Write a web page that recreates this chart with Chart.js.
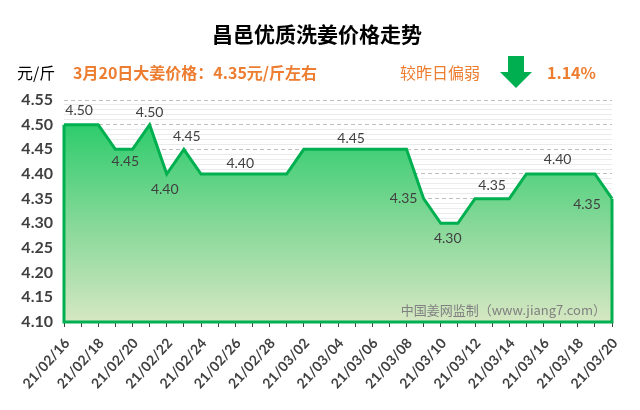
<!DOCTYPE html>
<html>
<head>
<meta charset="utf-8">
<title>昌邑优质洗姜价格走势</title>
<script src="https://cdn.jsdelivr.net/npm/chart.js@4/dist/chart.umd.min.js"></script>
<style>
    html, body { margin: 0; padding: 0; background: #fff; }
</style>
</head>
<body>
<canvas id="price-chart" width="640" height="410"></canvas>
<script>
var dates = [
    "21/02/16", "21/02/17", "21/02/18", "21/02/19", "21/02/20", "21/02/21",
    "21/02/22", "21/02/23", "21/02/24", "21/02/25", "21/02/26", "21/02/27",
    "21/02/28", "21/03/01", "21/03/02", "21/03/03", "21/03/04", "21/03/05",
    "21/03/06", "21/03/07", "21/03/08", "21/03/09", "21/03/10", "21/03/11",
    "21/03/12", "21/03/13", "21/03/14", "21/03/15", "21/03/16", "21/03/17",
    "21/03/18", "21/03/19", "21/03/20"
];
var prices = [
    4.50, 4.50, 4.50, 4.45, 4.45, 4.50,
    4.40, 4.45, 4.40, 4.40, 4.40, 4.40,
    4.40, 4.40, 4.45, 4.45, 4.45, 4.45,
    4.45, 4.45, 4.45, 4.35, 4.30, 4.30,
    4.35, 4.35, 4.35, 4.40, 4.40, 4.40,
    4.40, 4.40, 4.35
];
var yTickValues = [4.10, 4.15, 4.20, 4.25, 4.30, 4.35, 4.40, 4.45, 4.50, 4.55];

var titleText = "昌邑优质洗姜价格走势";
var unitText = "元/斤";
var priceNote = "3月20日大姜价格：4.35元/斤左右";
var changeNote = "较昨日偏弱";
var changePct = "1.14%";
var sourceNote = "中国姜网监制（www.jiang7.com）";

var green = "#00B050";
var orange = "#ED7D31";
var cjk = '"Noto Sans CJK SC", sans-serif';
var num = 'Lato, "Noto Sans", sans-serif';

// which points get a value label, and where it sits relative to the point
var valueLabels = [
    { i: 1, dx: -2, dy: -14 },
    { i: 3, dx: 10, dy: 12 },
    { i: 5, dx: 0, dy: -12 },
    { i: 6, dx: -2, dy: 15 },
    { i: 7, dx: 3, dy: -13 },
    { i: 10, dx: 5, dy: -11 },
    { i: 17, dx: -4, dy: -11 },
    { i: 21, dx: -20, dy: 0 },
    { i: 22, dx: 7, dy: 15 },
    { i: 25, dx: 0, dy: -13 },
    { i: 29, dx: -3, dy: -15 },
    { i: 32, dx: -25, dy: 6 }
];

var areaEdges = {
    id: "areaEdges",
    afterDatasetsDraw: function (chart) {
        var pts = chart.getDatasetMeta(0).data;
        var bottom = chart.scales.y.getPixelForValue(yTickValues[0]);
        var first = pts[0], last = pts[pts.length - 1];
        var c = chart.ctx;
        c.save();
        c.strokeStyle = green;
        c.lineWidth = 3;
        c.lineJoin = "miter";
        c.beginPath();
        c.moveTo(first.x, first.y);
        c.lineTo(first.x, bottom);
        c.lineTo(last.x, bottom);
        c.lineTo(last.x, last.y);
        c.stroke();

        c.font = "14px " + num;
        c.fillStyle = "#404040";
        c.textAlign = "center";
        c.textBaseline = "middle";
        valueLabels.forEach(function (l) {
            var p = pts[l.i];
            c.fillText(prices[l.i].toFixed(2), p.x + l.dx, p.y + l.dy);
        });

        c.font = "13px " + cjk;
        c.fillStyle = "#808080";
        c.textAlign = "right";
        c.fillText(sourceNote, chart.chartArea.right - 6, chart.chartArea.bottom - 12);
        c.restore();
    }
};

var header = {
    id: "header",
    afterDraw: function (chart) {
        var c = chart.ctx;
        c.save();
        c.textBaseline = "middle";
        c.textAlign = "center";
        c.fillStyle = "#000";
        c.font = "bold 21px " + cjk;
        c.fillText(titleText, 317, 34);

        c.textAlign = "left";
        c.font = "16px " + cjk;
        c.fillText(unitText, 17, 73);
        c.fillStyle = orange;
        c.font = "bold 16px " + cjk;
        c.fillText(priceNote, 73, 73);
        c.font = "16px " + cjk;
        c.fillText(changeNote, 400, 73);
        c.font = "bold 16px " + cjk;
        c.fillText(changePct, 547, 73);

        // down arrow
        c.fillStyle = green;
        c.beginPath();
        c.moveTo(508, 56);
        c.lineTo(524, 56);
        c.lineTo(524, 72);
        c.lineTo(532, 72);
        c.lineTo(516, 88);
        c.lineTo(500, 72);
        c.lineTo(508, 72);
        c.closePath();
        c.fill();
        c.restore();
    }
};

var ctx = document.getElementById("price-chart").getContext("2d");
var chart = new Chart(ctx, {
    type: "line",
    data: {
        labels: dates,
        datasets: [
            {
                label: "价格",
                data: prices,
                borderColor: green,
                borderWidth: 3,
                borderJoinStyle: "miter",
                pointRadius: 0,
                tension: 0,
                fill: "start",
                backgroundColor: function (context) {
                    var area = context.chart.chartArea;
                    if (!area) return "#7fd69a";
                    var y = context.chart.scales.y;
                    var g = context.chart.ctx.createLinearGradient(0, y.getPixelForValue(4.5), 0, area.bottom);
                    g.addColorStop(0, "#2ecc6c");
                    g.addColorStop(0.5, "#85d898");
                    g.addColorStop(1, "#d5e7c2");
                    return g;
                },
            },
        ],
    },
    options: {
        responsive: false,
        animation: false,
        layout: { padding: { top: 100, right: 28, left: 0, bottom: 0 } },
        plugins: {
            legend: { display: false },
            tooltip: { enabled: false },
        },
        scales: {
            x: {
                offset: false,
                grid: {
                    drawOnChartArea: false,
                    drawTicks: true,
                    tickLength: 5,
                    tickColor: "#404040",
                },
                border: { color: "#404040", width: 1.5 },
                ticks: {
                    autoSkip: false,
                    minRotation: 48,
                    maxRotation: 48,
                    padding: 8,
                    labelOffset: 3,
                    color: "#404040",
                    font: { family: num, size: 14, weight: "bold" },
                    callback: function (v, i) {
                        return i % 2 === 0 ? dates[i] : "";
                    },
                },
                afterFit: function (s) { s.height = 88; },
            },
            y: {
                min: yTickValues[0],
                max: yTickValues[yTickValues.length - 1],
                afterBuildTicks: function (s) {
                    s.ticks = yTickValues.map(function (v) { return { value: v }; });
                },
                grid: { color: "#bfbfbf", drawTicks: false },
                border: { display: false, dash: [4, 3] },
                ticks: {
                    padding: 11,
                    color: "#404040",
                    font: { family: num, size: 16, weight: "bold" },
                    callback: function (v) { return v.toFixed(2); },
                },
                afterFit: function (s) { s.width = 64; },
            },
            minor: {
                position: "left",
                min: yTickValues[0],
                max: yTickValues[yTickValues.length - 1],
                ticks: { display: false, stepSize: 0.01 },
                grid: {
                    drawTicks: false,
                    color: function (c) {
                        return Math.round(c.tick.value * 100) % 5 === 0 ? "rgba(0,0,0,0)" : "#ebebeb";
                    },
                },
                border: { display: false },
                afterFit: function (s) { s.width = 0; },
            },
        },
    },
    plugins: [areaEdges, header],
});
</script>
</body>
</html>
